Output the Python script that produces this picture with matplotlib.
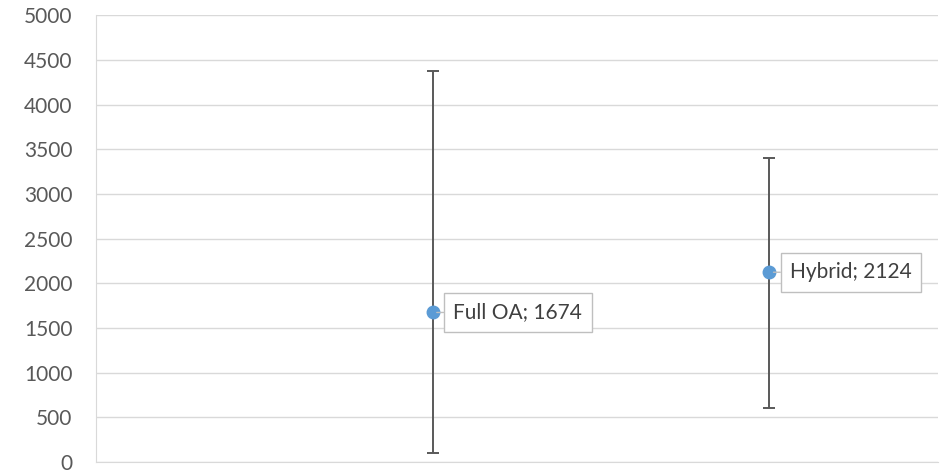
import matplotlib.pyplot as plt

labels = ['Full OA', 'Hybrid']
x_pos = [1, 2]
means = [1674, 2124]
err_low = [100, 600]
err_high = [4370, 3400]

plt.rcParams['font.family'] = ['Lato', 'DejaVu Sans']

fig = plt.figure(figsize=(9.5, 4.73), dpi=100)
ax = fig.add_axes([0.101, 0.023, 0.886, 0.945])

lower = [m - lo for m, lo in zip(means, err_low)]
upper = [hi - m for m, hi in zip(means, err_high)]
ax.errorbar(x_pos, means, yerr=[lower, upper], fmt='none', ecolor='#595959',
            elinewidth=1.4, capsize=4.5, capthick=1.4, zorder=3)
ax.plot(x_pos, means, 'o', color='#5B9BD5', markersize=9, zorder=4)

for xv, yv, lab in zip(x_pos, means, labels):
    ax.annotate(f'{lab}; {yv}', xy=(xv, yv), xytext=(15, 0), textcoords='offset points',
                ha='left', va='center', fontsize=15, color='#404040',
                bbox=dict(boxstyle='square,pad=0.45', fc='white', ec='#BFBFBF', lw=1),
                arrowprops=dict(arrowstyle='-', color='#BFBFBF', lw=1, shrinkA=0, shrinkB=3),
                zorder=5)

ax.set_xlim(0, 2.5)
ax.set_ylim(0, 5000)
ax.set_yticks(range(0, 5001, 500))
ax.set_xticks([])
ax.grid(axis='y', color='#D9D9D9', lw=1)
ax.set_axisbelow(True)
ax.tick_params(axis='y', length=0, labelsize=15, labelcolor='#595959', pad=17)
for s in ['top', 'right']:
    ax.spines[s].set_visible(False)
ax.spines['left'].set_color('#D9D9D9')
ax.spines['bottom'].set_color('#D9D9D9')

fig.savefig('out.png', dpi=100)
